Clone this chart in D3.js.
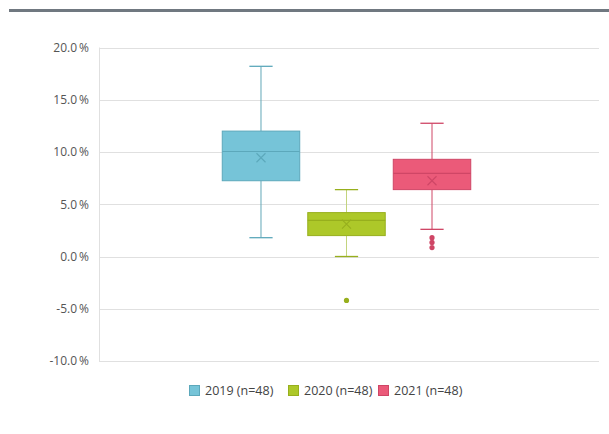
<!DOCTYPE html>
<html>
<head>
<meta charset="utf-8">
<script src="https://cdn.jsdelivr.net/npm/d3@7"></script>
<style>
  html, body { margin: 0; padding: 0; background: #fff; }
  svg { display: block; font-family: "Open Sans", "Noto Sans", sans-serif; }
</style>
</head>
<body>
<svg id="chart" width="609" height="434"></svg>
<script>
// Series and their five-number summaries (percent)
const series   = ["2019 (n=48)", "2020 (n=48)", "2021 (n=48)"];
const minVals  = [1.8, 0.0, 2.6];
const q1Vals   = [7.25, 2.0, 6.4];
const medVals  = [10.05, 3.45, 7.95];
const q3Vals   = [12.0, 4.2, 9.3];
const maxVals  = [18.2, 6.4, 12.75];
const meanVals = [9.45, 3.1, 7.25];
const outliers = [[], [-4.2], [1.8, 1.35, 0.85]];
const yTicks   = [20, 15, 10, 5, 0, -5, -10];

const fills   = ["#76c4d8", "#adc829", "#eb5a79"];
const strokes = ["#5ca8bb", "#97af1d", "#cf4666"];
const whisk   = ["#62a7b7", "#c3d47e", "#cf4666"];

const svg = d3.select("#chart");

// Top rule
svg.append("rect").attr("x", 9).attr("y", 9).attr("width", 600).attr("height", 3).attr("fill", "#707880");

const plot = { left: 99, right: 599, top: 47.5, bottom: 361 };

const y = d3.scaleLinear().domain([-10, 20]).range([plot.bottom, plot.top]);

// Gridlines
svg.append("g").selectAll("line").data(yTicks).join("line")
  .attr("x1", plot.left).attr("x2", plot.right)
  .attr("y1", d => Math.round(y(d)) + 0.5).attr("y2", d => Math.round(y(d)) + 0.5)
  .attr("stroke", "#e0e0e0").attr("stroke-width", 1);
svg.append("line")
  .attr("x1", plot.left + 0.5).attr("x2", plot.left + 0.5)
  .attr("y1", plot.top).attr("y2", plot.bottom)
  .attr("stroke", "#e0e0e0");

// Y axis labels (plain hyphen for negatives, thin space before %)
const yAxis = d3.axisLeft(y).tickValues(yTicks).tickSize(0).tickPadding(0)
  .tickFormat(d => d.toFixed(1) + "\u2009%");
const ya = svg.append("g").attr("transform", `translate(${89},0)`).call(yAxis);
ya.select(".domain").remove();
ya.selectAll("text").attr("fill", "#555").attr("font-size", 12)
  .attr("font-family", "'Open Sans', 'Noto Sans', sans-serif");

// Series positions within the single category
const x = d3.scaleBand().domain(series).range([plot.left - 5, plot.right])
  .paddingInner(0.094).paddingOuter(1.5);
const bw = x.bandwidth();
const capW = bw * 0.3;

const g = svg.append("g");
series.forEach((s, i) => {
  const x0 = x(s), cx = x0 + bw / 2;
  const gi = g.append("g");
  // whisker lines
  gi.append("line").attr("x1", cx).attr("x2", cx)
    .attr("y1", y(maxVals[i])).attr("y2", y(q3Vals[i]))
    .attr("stroke", whisk[i]).attr("stroke-width", 1);
  gi.append("line").attr("x1", cx).attr("x2", cx)
    .attr("y1", y(q1Vals[i])).attr("y2", y(minVals[i]))
    .attr("stroke", whisk[i]).attr("stroke-width", 1);
  // caps
  [maxVals[i], minVals[i]].forEach(v => {
    gi.append("line").attr("x1", cx - capW / 2).attr("x2", cx + capW / 2)
      .attr("y1", y(v)).attr("y2", y(v))
      .attr("stroke", strokes[i]).attr("stroke-width", 1.3);
  });
  // box
  gi.append("rect").attr("x", x0).attr("y", y(q3Vals[i]))
    .attr("width", bw).attr("height", y(q1Vals[i]) - y(q3Vals[i]))
    .attr("fill", fills[i]).attr("stroke", strokes[i]).attr("stroke-width", 1);
  // median
  gi.append("line").attr("x1", x0).attr("x2", x0 + bw)
    .attr("y1", y(medVals[i])).attr("y2", y(medVals[i]))
    .attr("stroke", strokes[i]).attr("stroke-width", 1.2);
  // mean marker
  const my = y(meanVals[i]), m = 4.5;
  gi.append("path")
    .attr("d", `M${cx - m},${my - m}L${cx + m},${my + m}M${cx - m},${my + m}L${cx + m},${my - m}`)
    .attr("stroke", strokes[i]).attr("stroke-width", 1.1).attr("fill", "none");
  // outliers
  gi.selectAll("circle").data(outliers[i]).join("circle")
    .attr("cx", cx).attr("cy", d => y(d)).attr("r", 2.6)
    .attr("fill", strokes[i]);
});

// Legend
const legX = [189, 288, 378];
const leg = svg.append("g");
series.forEach((s, i) => {
  leg.append("rect").attr("x", legX[i] + 0.5).attr("y", 385.5).attr("width", 10).attr("height", 10)
    .attr("fill", fills[i]).attr("stroke", strokes[i]).attr("stroke-width", 1);
  leg.append("text").attr("x", legX[i] + 16).attr("y", 395)
    .attr("font-size", 12.5).attr("fill", "#444").text(s);
});
</script>
</body>
</html>
